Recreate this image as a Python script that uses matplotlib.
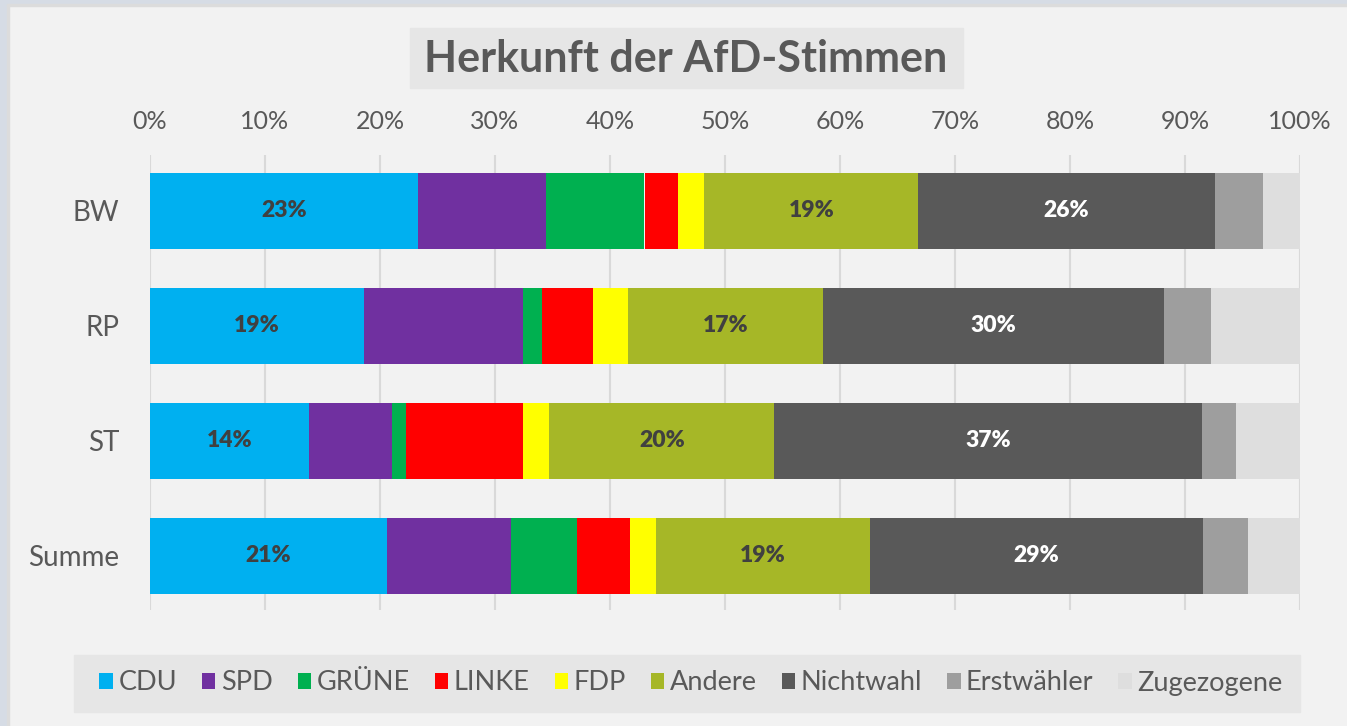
import matplotlib
matplotlib.use("Agg")
import matplotlib.pyplot as plt
from matplotlib.patches import Rectangle, Patch
import numpy as np

regions = ["BW", "RP", "ST", "Summe"]
parties = ["CDU", "SPD", "GRÜNE", "LINKE", "FDP", "Andere", "Nichtwahl", "Erstwähler", "Zugezogene"]
cdu        = [23.3, 18.6, 13.8, 20.6]
spd        = [11.1, 13.8, 7.2, 10.8]
gruene     = [8.6, 1.7, 1.3, 5.7]
linke      = [2.9, 4.4, 10.1, 4.6]
fdp        = [2.3, 3.1, 2.3, 2.3]
andere     = [18.6, 16.9, 19.6, 18.6]
nichtwahl  = [25.8, 29.7, 37.2, 29.0]
erstwaehler = [4.2, 4.1, 2.9, 3.9]
zugezogene = [3.2, 7.7, 5.6, 4.5]
series = [cdu, spd, gruene, linke, fdp, andere, nichtwahl, erstwaehler, zugezogene]
colors = ["#00B0F0", "#7030A0", "#00B050", "#FF0000", "#FFFF00", "#A6B727",
          "#595959", "#9E9E9E", "#DEDEDE"]
labelled = {"CDU": "#404040", "Andere": "#404040", "Nichtwahl": "#FFFFFF"}
xticks = [0, 10, 20, 30, 40, 50, 60, 70, 80, 90, 100]

FONT = "Lato"
TXT = "#595959"

W, H = 1347, 726
fig = plt.figure(figsize=(W / 100, H / 100), dpi=100)
fig.patch.set_facecolor("#F2F2F2")
# outer frame strips (left and top)
fig.patches.append(Rectangle((0, 0), 7 / W, 1, transform=fig.transFigure, color="#D6DCE5", zorder=0))
fig.patches.append(Rectangle((7 / W, 0), 1.5 / W, 1 - 4 / H, transform=fig.transFigure, color="#DCDCDC", zorder=0))
fig.patches.append(Rectangle((0, 1 - 4 / H), 1, 4 / H, transform=fig.transFigure, color="#D6DCE5", zorder=0))
fig.patches.append(Rectangle((7 / W, 1 - 5.5 / H), 1, 1.5 / H, transform=fig.transFigure, color="#DCDCDC", zorder=0))

ax = fig.add_axes([150 / W, 116 / H, 1150 / W, 455 / H])
ax.set_facecolor("none")
y = np.arange(len(regions))
left = np.zeros(len(regions))
for name, vals, col in zip(parties, series, colors):
    vals = np.array(vals)
    ax.barh(y, vals, left=left, height=0.66, color=col, zorder=3, label=name)
    if name in labelled:
        for yi, v, l in zip(y, vals, left):
            ax.text(l + v / 2, yi, f"{round(v)}%", ha="center", va="center",
                    fontsize=16.5, fontweight="heavy", family=FONT, color=labelled[name], zorder=4)
    left += vals

ax.set_xlim(0, 100)
ax.set_ylim(3.47, -0.487)
ax.set_xticks(xticks)
ax.set_xticklabels([f"{t}%" for t in xticks])
ax.xaxis.tick_top()
ax.set_yticks(y)
ax.set_yticklabels(regions)
ax.tick_params(axis="x", length=0, pad=16, labelsize=18, labelcolor=TXT)
ax.tick_params(axis="y", length=0, pad=22, labelsize=20, labelcolor=TXT)
for lab in ax.get_xticklabels() + ax.get_yticklabels():
    lab.set_family(FONT)
for s in ax.spines.values():
    s.set_visible(False)
ax.grid(axis="x", color="#D9D9D9", linewidth=1.5, zorder=1)
ax.grid(axis="y", visible=False)

# title
fig.patches.append(Rectangle((410 / W, 1 - 88 / H), 553 / W, 60 / H, transform=fig.transFigure,
                             color="#E6E6E6", zorder=1))
fig.text(686 / W, 1 - 59 / H, "Herkunft der AfD-Stimmen", ha="center", va="center",
         fontsize=31, fontweight="bold", family=FONT, color=TXT, zorder=2)

# legend
fig.patches.append(Rectangle((74 / W, 1 - 712 / H), 1226 / W, 57 / H, transform=fig.transFigure,
                             color="#E6E6E6", zorder=1))
handles = [Patch(facecolor=c, edgecolor="none") for c in colors]
leg = fig.legend(handles, parties, loc="center", bbox_to_anchor=(691 / W, 1 - 683 / H),
                 ncol=9, frameon=False, handlelength=0.5, handleheight=0.55,
                 handletextpad=0.2, columnspacing=0.92,
                 prop={"family": FONT, "size": 19.5})
for t in leg.get_texts():
    t.set_color(TXT)

fig.savefig("out.png", dpi=100, facecolor=fig.get_facecolor())
